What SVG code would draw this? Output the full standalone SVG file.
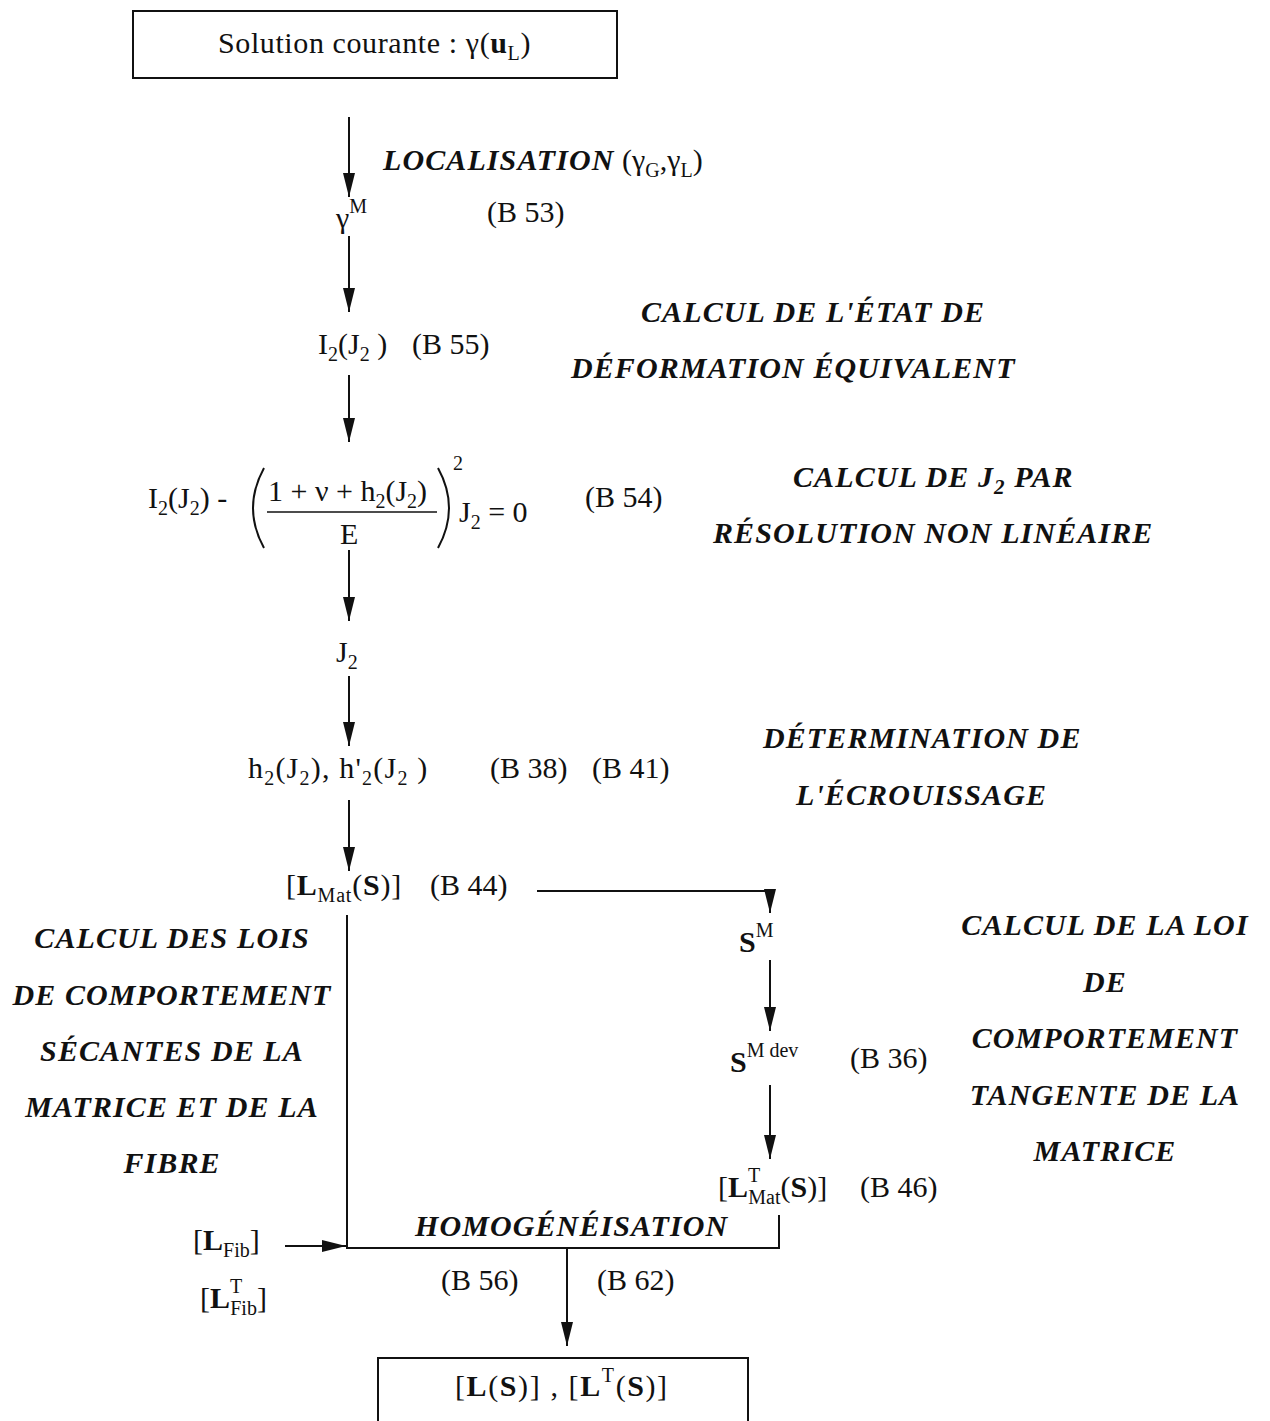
<svg xmlns="http://www.w3.org/2000/svg" width="1270" height="1421" viewBox="0 0 1270 1421">
<style>
text{font-family:"Liberation Serif","Times New Roman",serif;fill:#111}
.t{font-size:30px}
.h{font-size:30px;font-weight:bold;font-style:italic;letter-spacing:1.1px}
.s{font-size:20px}
.b{font-weight:bold}
.ln{stroke:#111;stroke-width:2;fill:none}
.box{stroke:#111;stroke-width:2;fill:#fff}
</style>
<defs>
<marker id="ah" markerUnits="userSpaceOnUse" markerWidth="24" markerHeight="12" refX="24" refY="6" orient="auto">
<path d="M0,0 L24,6 L0,12 z" fill="#111"/>
</marker>
</defs>

<g id="connectors">
<line class="ln" x1="349" y1="117" x2="349" y2="197" marker-end="url(#ah)"/>
<line class="ln" x1="349" y1="236" x2="349" y2="312" marker-end="url(#ah)"/>
<line class="ln" x1="349" y1="375" x2="349" y2="442" marker-end="url(#ah)"/>
<line class="ln" x1="349" y1="550" x2="349" y2="621" marker-end="url(#ah)"/>
<line class="ln" x1="349" y1="676" x2="349" y2="746" marker-end="url(#ah)"/>
<line class="ln" x1="349" y1="800" x2="349" y2="871" marker-end="url(#ah)"/>
<polyline class="ln" points="537,891 770,891 770,913" marker-end="url(#ah)"/>
<line class="ln" x1="770" y1="960" x2="770" y2="1031" marker-end="url(#ah)"/>
<line class="ln" x1="770" y1="1085" x2="770" y2="1159" marker-end="url(#ah)"/>
<polyline class="ln" points="347,915 347,1248 779,1248 779,1215"/>
<line class="ln" x1="285" y1="1246" x2="346" y2="1246" marker-end="url(#ah)"/>
<line class="ln" x1="567" y1="1248" x2="567" y2="1346" marker-end="url(#ah)"/>
</g>

<g id="n-solution">
<rect class="box" x="133" y="11" width="484" height="67"/>
<text class="t" x="218" y="53" letter-spacing="0.6">Solution courante : γ(<tspan class="b">u</tspan><tspan class="s" dy="7">L</tspan><tspan dy="-7">)</tspan></text>
</g>

<g id="n-localisation">
<text x="383" y="170"><tspan class="h">LOCALISATION</tspan><tspan class="t"> (γ</tspan><tspan class="s" dy="7">G</tspan><tspan class="t" dy="-7">,γ</tspan><tspan class="s" dy="7">L</tspan><tspan class="t" dy="-7">)</tspan></text>
</g>

<g id="n-gammaM">
<text class="t" x="336" y="228">γ<tspan class="s" dy="-15">M</tspan></text>
<text class="t" x="487" y="222">(B 53)</text>
</g>

<g id="n-I2">
<text class="t" x="318" y="354">I<tspan class="s" dy="7">2</tspan><tspan dy="-7">(J</tspan><tspan class="s" dy="7">2</tspan><tspan dy="-7"> )</tspan></text>
<text class="t" x="412" y="354">(B 55)</text>
</g>

<g id="h-etat">
<text class="h" x="641" y="322">CALCUL DE L'ÉTAT DE</text>
<text class="h" x="571" y="378">DÉFORMATION ÉQUIVALENT</text>
</g>

<g id="n-equation">
<text class="t" x="148" y="508">I<tspan class="s" dy="7">2</tspan><tspan dy="-7">(J</tspan><tspan class="s" dy="7">2</tspan><tspan dy="-7">) -</tspan></text>
<path d="M264,468 Q242,508 264,548" class="ln" stroke-width="1.8"/>
<path d="M438,468 Q460,508 438,548" class="ln" stroke-width="1.8"/>
<text class="t" x="268" y="501">1 + ν + h<tspan class="s" dy="7">2</tspan><tspan dy="-7">(J</tspan><tspan class="s" dy="7">2</tspan><tspan dy="-7">)</tspan></text>
<line x1="267" y1="512" x2="437" y2="512" stroke="#111" stroke-width="1.5"/>
<text class="t" x="340" y="544">E</text>
<text class="s" x="453" y="470">2</text>
<text class="t" x="459" y="522">J<tspan class="s" dy="7">2</tspan><tspan dy="-7"> = 0</tspan></text>
<text class="t" x="585" y="507">(B 54)</text>
</g>

<g id="h-J2">
<text class="h" x="793" y="487">CALCUL DE J<tspan font-size="21" dy="7">2</tspan><tspan dy="-7"> PAR</tspan></text>
<text class="h" x="713" y="543">RÉSOLUTION NON LINÉAIRE</text>
</g>

<g id="n-J2">
<text class="t" x="336" y="662">J<tspan class="s" dy="7">2</tspan></text>
</g>

<g id="n-h2">
<text class="t" x="248" y="778" letter-spacing="1.2">h<tspan class="s" dy="7">2</tspan><tspan dy="-7">(J</tspan><tspan class="s" dy="7">2</tspan><tspan dy="-7">), h'</tspan><tspan class="s" dy="7">2</tspan><tspan dy="-7">(J</tspan><tspan class="s" dy="7">2</tspan><tspan dy="-7">  )</tspan></text>
<text class="t" x="490" y="778">(B 38)</text>
<text class="t" x="592" y="778">(B 41)</text>
</g>

<g id="h-ecrouissage">
<text class="h" x="763" y="748">DÉTERMINATION DE</text>
<text class="h" x="796" y="805">L'ÉCROUISSAGE</text>
</g>

<g id="n-LMat">
<text class="t" x="286" y="895" letter-spacing="0.8">[<tspan class="b">L</tspan><tspan class="s" dy="7">Mat</tspan><tspan dy="-7">(</tspan><tspan class="b">S</tspan>)]</text>
<text class="t" x="430" y="895">(B 44)</text>
</g>

<g id="n-SM">
<text class="t" x="739" y="952"><tspan class="b">S</tspan><tspan class="s" dy="-15">M</tspan></text>
</g>

<g id="n-SMdev">
<text class="t" x="730" y="1072"><tspan class="b">S</tspan><tspan class="s" dy="-15">M dev</tspan></text>
<text class="t" x="850" y="1068">(B 36)</text>
</g>

<g id="n-LTMat">
<text class="t" x="718" y="1197">[<tspan class="b">L</tspan><tspan class="s" dy="-15">T</tspan><tspan class="s" dx="-12" dy="22">Mat</tspan><tspan dy="-7">(</tspan><tspan class="b">S</tspan>)]</text>
<text class="t" x="860" y="1197">(B 46)</text>
</g>

<g id="h-tangente" text-anchor="middle">
<text class="h" x="1105" y="935">CALCUL DE LA LOI</text>
<text class="h" x="1105" y="992">DE</text>
<text class="h" x="1105" y="1048">COMPORTEMENT</text>
<text class="h" x="1105" y="1105">TANGENTE DE LA</text>
<text class="h" x="1105" y="1161">MATRICE</text>
</g>

<g id="h-secantes" text-anchor="middle">
<text class="h" x="172" y="948">CALCUL DES LOIS</text>
<text class="h" x="172" y="1005">DE COMPORTEMENT</text>
<text class="h" x="172" y="1061">SÉCANTES DE LA</text>
<text class="h" x="172" y="1117">MATRICE ET DE LA</text>
<text class="h" x="172" y="1173">FIBRE</text>
</g>

<g id="h-homog">
<text class="h" x="415" y="1236">HOMOGÉNÉISATION</text>
</g>

<g id="n-LFib">
<text class="t" x="193" y="1250">[<tspan class="b">L</tspan><tspan class="s" dy="7">Fib</tspan><tspan dy="-7">]</tspan></text>
<text class="t" x="200" y="1308">[<tspan class="b">L</tspan><tspan class="s" dy="-15">T</tspan><tspan class="s" dx="-12" dy="22">Fib</tspan><tspan dy="-7">]</tspan></text>
</g>

<g id="refs-homog">
<text class="t" x="441" y="1290">(B 56)</text>
<text class="t" x="597" y="1290">(B 62)</text>
</g>

<g id="n-result">
<rect class="box" x="378" y="1358" width="370" height="80"/>
<text class="t" x="455" y="1396" letter-spacing="1.6">[<tspan class="b">L</tspan>(<tspan class="b">S</tspan>)] , [<tspan class="b">L</tspan><tspan class="s" dy="-14">T</tspan><tspan dy="14">(</tspan><tspan class="b">S</tspan>)]</text>
</g>
</svg>
